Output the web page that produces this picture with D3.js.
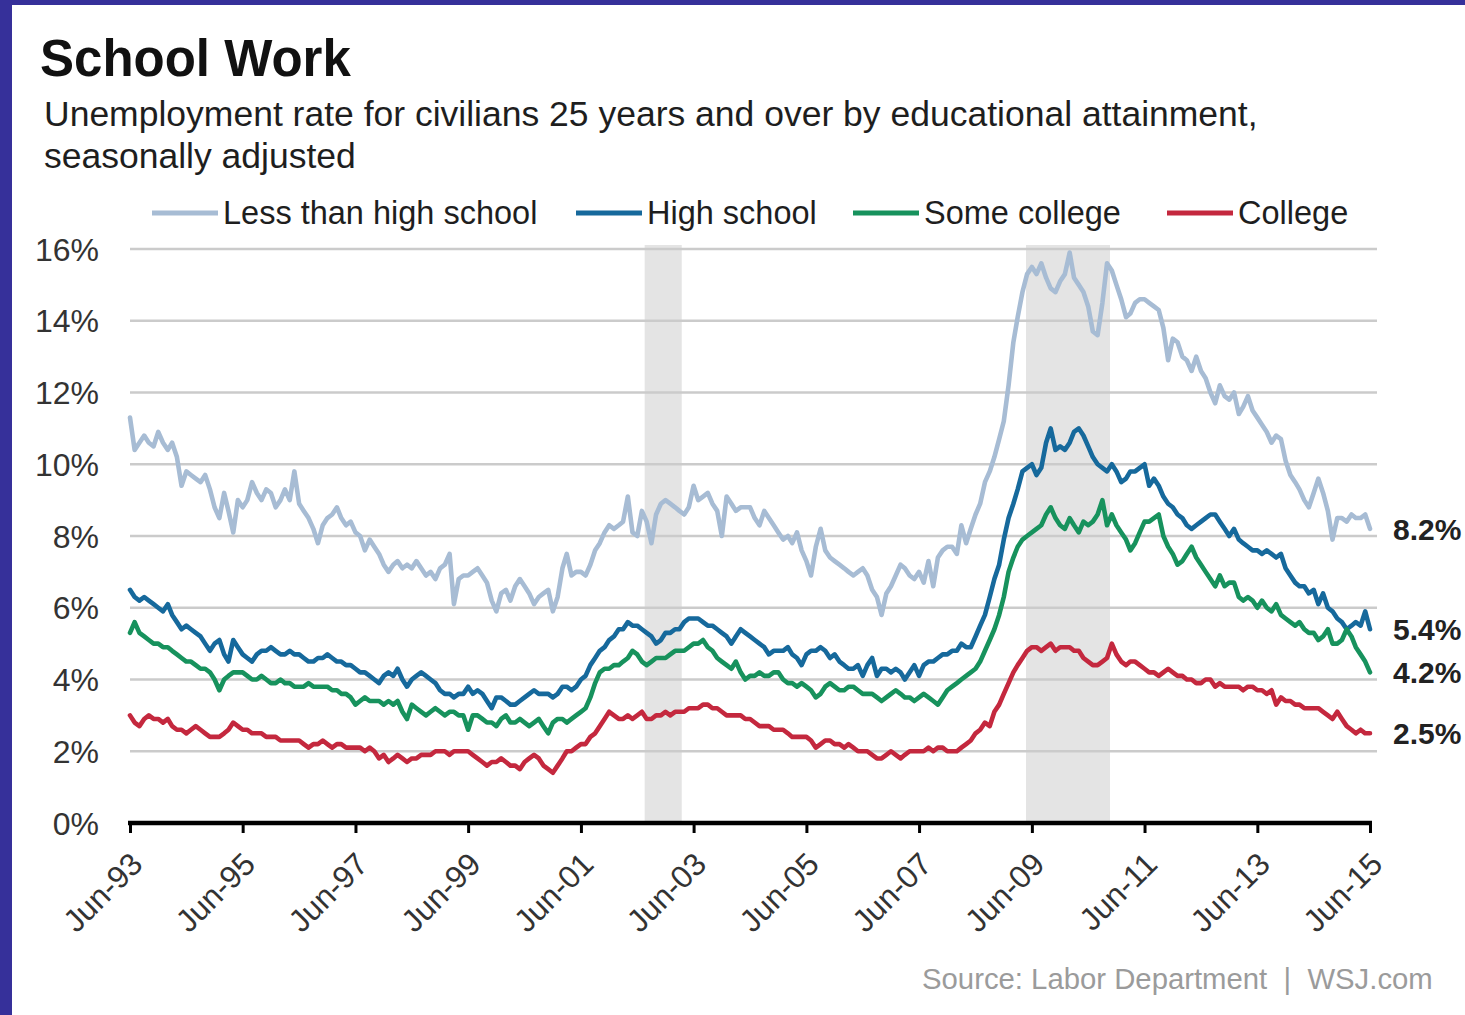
<!DOCTYPE html>
<html><head><meta charset="utf-8">
<script src="https://cdn.jsdelivr.net/npm/d3@7"></script>
<style>
body{margin:0;background:#fff;}
svg{display:block;}
text{font-family:"Liberation Sans",Arial,Helvetica,sans-serif;}
</style>
</head><body>
<svg id="chart" width="1465" height="1015"></svg>
<script>
// ---- Data (monthly, Jun-1993 .. Jun-2015) ----
const seriesNames = ["Less than high school", "High school", "Some college", "College"];
const seriesColors = ["#a7bcd4", "#16699c", "#17925d", "#c4283e"];

const lessThanHighSchool = [
  11.3,10.4,10.6,10.8,10.6,10.5,10.9,10.6,10.4,10.6,10.2,9.4,
  9.8,9.7,9.6,9.5,9.7,9.3,8.8,8.5,9.2,8.7,8.1,9.0,
  8.8,9.0,9.5,9.2,9.0,9.3,9.2,8.8,9.0,9.3,9.0,9.8,
  8.9,8.7,8.5,8.2,7.8,8.3,8.5,8.6,8.8,8.5,8.3,8.4,
  8.1,8.0,7.6,7.9,7.7,7.5,7.2,7.0,7.2,7.3,7.1,7.2,
  7.1,7.3,7.1,6.9,7.0,6.8,7.1,7.2,7.5,6.1,6.8,6.9,
  6.9,7.0,7.1,6.9,6.7,6.2,5.9,6.4,6.5,6.2,6.6,6.8,
  6.6,6.4,6.1,6.3,6.4,6.5,5.9,6.3,7.1,7.5,6.9,7.0,
  7.0,6.9,7.2,7.6,7.8,8.1,8.3,8.2,8.3,8.4,9.1,8.1,
  8.0,8.7,8.4,7.8,8.6,8.9,9.0,8.9,8.8,8.7,8.6,8.8,
  9.4,9.0,9.1,9.2,8.9,8.7,8.0,9.1,8.9,8.7,8.8,8.8,
  8.8,8.5,8.3,8.7,8.5,8.3,8.1,7.9,8.0,7.8,8.1,7.6,
  7.3,6.9,7.7,8.2,7.6,7.4,7.3,7.2,7.1,7.0,6.9,7.0,
  7.1,6.9,6.5,6.3,5.8,6.4,6.6,6.9,7.2,7.1,6.9,6.8,
  7.0,6.7,7.3,6.6,7.4,7.6,7.7,7.7,7.5,8.3,7.8,8.2,
  8.6,8.9,9.5,9.8,10.2,10.7,11.2,12.2,13.4,14.1,14.8,15.3,
  15.5,15.3,15.6,15.2,14.9,14.8,15.1,15.3,15.9,15.2,15.0,14.8,
  14.4,13.7,13.6,14.5,15.6,15.4,15.0,14.6,14.1,14.2,14.5,14.6,
  14.6,14.5,14.4,14.3,13.8,12.9,13.5,13.4,13.0,12.9,12.6,13.0,
  12.6,12.4,12.0,11.7,12.2,11.9,11.8,12.0,11.4,11.6,11.9,11.5,
  11.3,11.1,10.9,10.6,10.8,10.7,10.1,9.7,9.5,9.3,9.0,8.8,
  9.2,9.6,9.2,8.7,7.9,8.5,8.5,8.4,8.6,8.5,8.5,8.6,
  8.2
];
const highSchool = [
  6.5,6.3,6.2,6.3,6.2,6.1,6.0,5.9,6.1,5.8,5.6,5.4,
  5.5,5.4,5.3,5.2,5.0,4.8,5.0,5.1,4.7,4.5,5.1,4.9,
  4.7,4.6,4.5,4.7,4.8,4.8,4.9,4.8,4.7,4.7,4.8,4.7,
  4.7,4.6,4.5,4.5,4.6,4.6,4.7,4.6,4.5,4.5,4.4,4.4,
  4.3,4.2,4.2,4.1,4.0,3.9,4.1,4.2,4.1,4.3,4.0,3.8,
  4.0,4.1,4.2,4.1,4.0,3.9,3.7,3.6,3.6,3.5,3.6,3.6,
  3.8,3.6,3.7,3.6,3.4,3.2,3.5,3.5,3.4,3.3,3.3,3.4,
  3.5,3.6,3.7,3.6,3.6,3.6,3.5,3.6,3.8,3.8,3.7,3.8,
  4.0,4.1,4.4,4.6,4.8,4.9,5.1,5.2,5.4,5.4,5.6,5.5,
  5.5,5.4,5.3,5.2,5.0,5.1,5.3,5.3,5.4,5.4,5.6,5.7,
  5.7,5.7,5.6,5.5,5.5,5.4,5.3,5.2,5.0,5.2,5.4,5.3,
  5.2,5.1,5.0,4.9,4.7,4.8,4.8,4.8,4.9,4.7,4.6,4.4,
  4.7,4.8,4.8,4.9,4.8,4.6,4.7,4.5,4.4,4.3,4.3,4.4,
  4.1,4.4,4.6,4.1,4.3,4.3,4.2,4.3,4.2,4.0,4.2,4.4,
  4.1,4.4,4.5,4.5,4.6,4.7,4.7,4.8,4.8,5.0,4.9,4.9,
  5.2,5.5,5.8,6.3,6.8,7.2,7.9,8.5,8.9,9.3,9.8,9.9,
  10.0,9.7,9.9,10.6,11.0,10.4,10.5,10.4,10.6,10.9,11.0,10.8,
  10.5,10.2,10.0,9.9,9.8,10.0,9.8,9.5,9.6,9.8,9.8,9.9,
  10.0,9.4,9.6,9.4,9.1,8.9,8.8,8.6,8.5,8.3,8.2,8.3,
  8.4,8.5,8.6,8.6,8.4,8.2,8.0,8.2,7.9,7.8,7.7,7.6,
  7.6,7.5,7.6,7.5,7.4,7.5,7.1,6.9,6.7,6.6,6.6,6.4,
  6.5,6.1,6.4,6.0,5.9,5.7,5.6,5.4,5.5,5.6,5.5,5.9,
  5.4
];
const someCollege = [
  5.3,5.6,5.3,5.2,5.1,5.0,5.0,4.9,4.9,4.8,4.7,4.6,
  4.5,4.5,4.4,4.3,4.3,4.2,4.0,3.7,4.0,4.1,4.2,4.2,
  4.2,4.1,4.0,4.0,4.1,4.0,3.9,3.9,4.0,3.9,3.9,3.8,
  3.8,3.8,3.9,3.8,3.8,3.8,3.8,3.7,3.7,3.6,3.6,3.5,
  3.3,3.4,3.5,3.4,3.4,3.4,3.3,3.4,3.3,3.4,3.1,2.9,
  3.3,3.2,3.1,3.0,3.1,3.2,3.1,3.0,3.1,3.1,3.0,3.0,
  2.6,3.0,3.0,2.9,2.8,2.8,2.7,2.9,3.0,2.8,2.8,2.9,
  2.8,2.7,2.8,2.9,2.7,2.5,2.8,2.9,2.9,2.8,2.9,3.0,
  3.1,3.2,3.5,3.9,4.2,4.3,4.3,4.4,4.4,4.5,4.6,4.8,
  4.7,4.5,4.4,4.5,4.6,4.6,4.6,4.7,4.8,4.8,4.8,4.9,
  5.0,5.0,5.1,4.9,4.8,4.6,4.5,4.4,4.3,4.5,4.2,4.0,
  4.1,4.1,4.2,4.1,4.1,4.2,4.2,4.0,3.9,3.9,3.8,3.9,
  3.8,3.7,3.5,3.6,3.8,3.9,3.8,3.7,3.7,3.8,3.8,3.7,
  3.6,3.6,3.6,3.5,3.4,3.5,3.6,3.7,3.6,3.5,3.5,3.4,
  3.5,3.6,3.5,3.4,3.3,3.5,3.7,3.8,3.9,4.0,4.1,4.2,
  4.3,4.5,4.8,5.1,5.4,5.8,6.3,7.0,7.4,7.7,7.9,8.0,
  8.1,8.2,8.3,8.6,8.8,8.5,8.3,8.2,8.5,8.3,8.1,8.4,
  8.3,8.4,8.6,9.0,8.3,8.6,8.3,8.1,7.9,7.6,7.8,8.1,
  8.4,8.4,8.5,8.6,8.0,7.7,7.5,7.2,7.3,7.5,7.7,7.4,
  7.2,7.0,6.8,6.6,6.9,6.6,6.7,6.7,6.3,6.2,6.3,6.2,
  6.0,6.2,6.0,5.9,6.1,5.8,5.7,5.6,5.5,5.6,5.4,5.3,
  5.3,5.1,5.2,5.4,5.0,5.0,5.1,5.4,5.2,4.9,4.7,4.5,
  4.2
];
const college = [
  3.0,2.8,2.7,2.9,3.0,2.9,2.9,2.8,2.9,2.7,2.6,2.6,
  2.5,2.6,2.7,2.6,2.5,2.4,2.4,2.4,2.5,2.6,2.8,2.7,
  2.6,2.6,2.5,2.5,2.5,2.4,2.4,2.4,2.3,2.3,2.3,2.3,
  2.3,2.2,2.1,2.2,2.2,2.3,2.2,2.1,2.2,2.2,2.1,2.1,
  2.1,2.1,2.0,2.1,2.0,1.8,1.9,1.7,1.8,1.9,1.8,1.7,
  1.8,1.8,1.9,1.9,1.9,2.0,2.0,2.0,1.9,2.0,2.0,2.0,
  2.0,1.9,1.8,1.7,1.6,1.7,1.7,1.8,1.7,1.6,1.6,1.5,
  1.7,1.8,1.9,1.8,1.6,1.5,1.4,1.6,1.8,2.0,2.0,2.1,
  2.2,2.2,2.4,2.5,2.7,2.9,3.1,3.0,2.9,2.9,3.0,2.9,
  3.0,3.1,2.9,2.9,3.0,3.0,3.1,3.0,3.1,3.1,3.1,3.2,
  3.2,3.2,3.3,3.3,3.2,3.2,3.1,3.0,3.0,3.0,3.0,2.9,
  2.9,2.8,2.7,2.7,2.7,2.6,2.6,2.6,2.5,2.4,2.4,2.4,
  2.4,2.3,2.1,2.2,2.3,2.3,2.2,2.2,2.1,2.2,2.1,2.0,
  2.0,2.0,1.9,1.8,1.8,1.9,2.0,1.9,1.8,1.9,2.0,2.0,
  2.0,2.0,2.1,2.0,2.1,2.1,2.0,2.0,2.0,2.1,2.2,2.3,
  2.5,2.6,2.8,2.7,3.1,3.3,3.6,3.9,4.2,4.4,4.6,4.8,
  4.9,4.9,4.8,4.9,5.0,4.8,4.9,4.9,4.9,4.8,4.8,4.6,
  4.5,4.4,4.4,4.5,4.6,5.0,4.7,4.5,4.4,4.5,4.5,4.4,
  4.3,4.2,4.2,4.1,4.2,4.3,4.2,4.1,4.1,4.0,4.0,3.9,
  3.9,4.0,4.0,3.8,3.9,3.8,3.8,3.8,3.8,3.7,3.8,3.8,
  3.7,3.7,3.6,3.7,3.3,3.5,3.4,3.4,3.3,3.3,3.2,3.2,
  3.2,3.2,3.1,3.0,2.9,3.1,2.9,2.7,2.6,2.5,2.6,2.5,
  2.5
];
const xTickLabels = ["Jun-93","Jun-95","Jun-97","Jun-99","Jun-01","Jun-03","Jun-05","Jun-07","Jun-09","Jun-11","Jun-13","Jun-15"];
const yTickValues = [0, 2, 4, 6, 8, 10, 12, 14, 16];
const shadedPeriods = [["2002-07-19", "2003-03-16"], ["2009-04-24", "2010-10-20"]];
const titleText = "School Work";
const subtitleLines = ["Unemployment rate for civilians 25 years and over by educational attainment,", "seasonally adjusted"];
const sourceText = "Source: Labor Department  |  WSJ.com";

// ---- Build ----
const allSeries = [lessThanHighSchool, highSchool, someCollege, college];
const monthDate = i => new Date(1993, 5 + i, 1);
const parseLabel = d3.timeParse("%b-%y");
const tickDates = xTickLabels.map(parseLabel);

const svg = d3.select("#chart");
const W = 1465, H = 1015;

svg.append("rect").attr("width", W).attr("height", H).attr("fill", "#fff");
// frame
svg.append("rect").attr("x", 0).attr("y", 0).attr("width", 12).attr("height", H).attr("fill", "#36309a");
svg.append("rect").attr("x", 0).attr("y", 0).attr("width", W).attr("height", 5).attr("fill", "#36309a");

const x = d3.scaleTime().domain([new Date(1993, 5, 1), new Date(2015, 5, 1)]).range([130, 1370]);
const y = d3.scaleLinear().domain([0, 16]).range([823, 249]);

// titles
svg.append("text").attr("x", 40).attr("y", 76).attr("font-size", 51).attr("font-weight", "bold")
  .attr("fill", "#111").text(titleText);
svg.selectAll("text.sub").data(subtitleLines).join("text").attr("class", "sub")
  .attr("x", 44).attr("y", (d, i) => 126 + i * 42).attr("font-size", 35.5).attr("fill", "#1e1e1e").text(d => d);

// legend
const legendX = [152, 576, 853, 1167];
const lg = svg.append("g");
seriesNames.forEach((name, i) => {
  lg.append("line").attr("x1", legendX[i]).attr("x2", legendX[i] + 66).attr("y1", 213).attr("y2", 213)
    .attr("stroke", seriesColors[i]).attr("stroke-width", 5);
  lg.append("text").attr("x", legendX[i] + 71).attr("y", 224).attr("font-size", 32.5).attr("fill", "#1e1e1e").text(name);
});

// shaded periods
svg.selectAll("rect.shade").data(shadedPeriods).join("rect").attr("class", "shade")
  .attr("x", d => x(new Date(d[0]))).attr("width", d => x(new Date(d[1])) - x(new Date(d[0])))
  .attr("y", y(16) - 4).attr("height", y(0) - y(16) + 4).attr("fill", "#e4e4e4");

// gridlines
svg.selectAll("line.grid").data(yTickValues.filter(v => v > 0)).join("line").attr("class", "grid")
  .attr("x1", 130).attr("x2", 1377).attr("y1", d => y(d)).attr("y2", d => y(d))
  .attr("stroke", "#cbcbcb").attr("stroke-width", 2.5);

// y labels
svg.selectAll("text.ylab").data(yTickValues).join("text").attr("class", "ylab")
  .attr("x", 99).attr("y", d => y(d) + 11.5).attr("text-anchor", "end")
  .attr("font-size", 32).attr("fill", "#333").text(d => d + "%");

// lines
const line = d3.line().x((d, i) => x(monthDate(i))).y(d => y(d));
allSeries.forEach((s, k) => {
  svg.append("path").datum(s).attr("d", line).attr("fill", "none")
    .attr("stroke", seriesColors[k]).attr("stroke-width", 4.6)
    .attr("stroke-linejoin", "round").attr("stroke-linecap", "round");
});

// x axis
const xAxis = d3.axisBottom(x).tickValues(tickDates).tickSize(10).tickSizeOuter(0)
  .tickFormat(d3.timeFormat("Jun-%y"));
const gx = svg.append("g").attr("transform", `translate(0,${y(0)})`).call(xAxis);
gx.select(".domain").attr("stroke", "#000").attr("stroke-width", 4.5).attr("d", "M128,0H1372");
gx.selectAll(".tick line").attr("stroke", "#000").attr("stroke-width", 3);
gx.selectAll(".tick text").attr("x", 0).attr("y", 0).attr("dy", 0)
  .attr("transform", "translate(14,43) rotate(-45)").attr("text-anchor", "end")
  .style("font-size", "31.5px").style("font-family", '"Liberation Sans",Arial,sans-serif').attr("fill", "#333");

// end labels
svg.selectAll("text.endlab").data(allSeries).join("text").attr("class", "endlab")
  .attr("x", 1393).attr("y", d => y(d[d.length - 1]) + 11).attr("font-size", 30).attr("font-weight", "bold")
  .attr("fill", "#222").text(d => d[d.length - 1].toFixed(1) + "%");

// source
svg.append("text").attr("x", 922).attr("y", 989).attr("font-size", 29.3).attr("fill", "#9b9b9b")
  .style("white-space", "pre").text(sourceText);
</script>
</body></html>
